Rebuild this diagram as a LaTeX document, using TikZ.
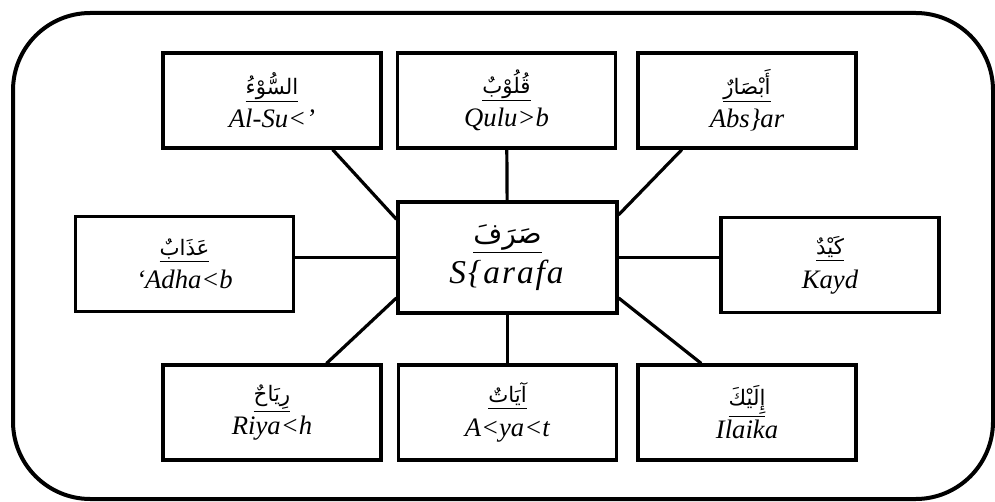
\documentclass[tikz,border=0pt]{standalone}
\usepackage{fontspec}
\setmainfont{Liberation Serif}
\newfontfamily\arabicfont[Script=Arabic]{DejaVu Sans}
\TeXXeTstate=1
\newcommand{\wordtext}[3][16]{\underline{\arabicfont\fontsize{#1}{20}\selectfont\beginR #2\endR}\\ \textit{#3}}

\begin{document}
\begin{tikzpicture}[x=0.75pt,y=-0.75pt,
  word/.style={draw,line width=2.6pt,minimum width=163.5pt,minimum height=71pt,
    align=center,inner sep=2pt,font=\fontsize{20}{25}\selectfont},
  root/.style={word,minimum width=164pt,minimum height=83pt,font=\fontsize{25}{30}\selectfont},
  link/.style={line width=2.4pt}]
   \useasboundingbox (0,0) rectangle (995,502);
   \draw[line width=3pt,rounded corners=58pt] (13,13) rectangle (993,499);

   % centre word
   \node[root] (sarafa) at (507.5,257.5) {\wordtext[21]{صَرَفَ}{\addfontfeature{LetterSpace=6}S\{arafa}};

   % top row
   \node[word] (alsu)  at (272,100.5)   {\wordtext{السُّوْءُ}{Al-Su<’}};
   \node[word] (qulub) at (506.5,100.5) {\wordtext{قُلُوْبٌ}{Qulu>b}};
   \node[word] (absar) at (747,100.5)   {\wordtext{أَبْصَارٌ}{Abs\}ar}};

   % middle row
   \node[word] (adhab) at (184.5,264) {\wordtext{عَذَابٌ}{‘Adha<b}};
   \node[word] (kayd)  at (830,265)   {\wordtext{كَيْدٌ}{Kayd}};

   % bottom row
   \node[word] (riyah)  at (272,412.5)   {\wordtext{رِيَاحٌ}{Riya<h}};
   \node[word] (ayat)   at (507.5,412.5) {\wordtext{آيَاتٌ}{A<ya<t}};
   \node[word] (ilaika) at (747,412.5)   {\wordtext{إِلَيْكَ}{Ilaika}};

   \draw[link] (alsu.-39) -- (sarafa.161);
   \draw[link] (qulub) -- (sarafa);
   \draw[link] (absar.217) -- (sarafa.21);
   \draw[link] (sarafa.west) -- (sarafa.west -| adhab.east);
   \draw[link] (sarafa.east) -- (sarafa.east -| kayd.west);
   \draw[link] (riyah.42) -- (sarafa.200);
   \draw[link] (ayat) -- (sarafa);
   \draw[link] (ilaika.133) -- (sarafa.-20);
 \end{tikzpicture}
\end{document}
